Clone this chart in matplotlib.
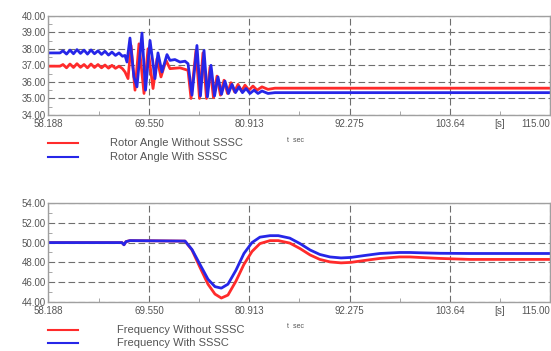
import matplotlib
matplotlib.use('Agg')
import matplotlib.pyplot as plt
from matplotlib.lines import Line2D
from matplotlib.ticker import FixedLocator, MultipleLocator

plt.rcParams['font.family'] = ['Liberation Sans', 'DejaVu Sans']

# x axis (time, s)
x_ticks = [58.188, 69.550, 80.913, 92.275, 103.64, 115.00]
x_tick_labels = ['58.188', '69.550', '80.913', '92.275', '103.64', '115.00']

# rotor angle, with SSSC
t_ang_with = [58.19, 59.49, 59.83, 60.23, 60.62, 61.02, 61.41, 61.81, 62.21, 62.60,
              63.00, 63.39, 63.79, 64.19, 64.58, 64.98, 65.37, 65.77, 66.17, 66.56,
              66.85, 67.07, 67.41, 67.86, 68.20, 68.77, 69.17, 69.68, 70.24, 70.58,
              71.03, 71.60, 71.94, 72.50, 73.07, 73.64, 73.98, 74.43, 74.99, 75.39,
              75.79, 76.18, 76.58, 76.98, 77.37, 77.77, 78.16, 78.56, 78.96, 79.35,
              79.75, 80.14, 80.54, 80.99, 81.45, 81.90, 82.35, 83.03, 83.82, 115.0]
ang_with = [37.75, 37.75, 37.88, 37.68, 37.92, 37.70, 37.95, 37.72, 37.92, 37.68,
            37.93, 37.70, 37.88, 37.66, 37.85, 37.62, 37.80, 37.60, 37.75, 37.55,
            37.60, 37.20, 38.65, 36.30, 35.70, 38.95, 35.50, 38.50, 36.20, 37.75,
            36.60, 37.65, 37.30, 37.35, 37.20, 37.25, 37.10, 35.20, 38.20, 35.15,
            37.90, 35.10, 37.00, 35.15, 36.30, 35.25, 36.05, 35.30, 35.85, 35.35,
            35.70, 35.35, 35.60, 35.30, 35.50, 35.30, 35.45, 35.30, 35.35, 35.35]

# rotor angle, without SSSC
t_ang_without = [58.19, 59.49, 59.83, 60.23, 60.62, 61.02, 61.41, 61.81, 62.21, 62.60,
                 63.00, 63.39, 63.79, 64.19, 64.58, 64.98, 65.37, 65.77, 66.17, 66.56,
                 66.85, 67.19, 67.53, 67.98, 68.43, 69.00, 69.45, 70.02, 70.47, 70.92,
                 71.49, 71.94, 73.07, 73.98, 74.32, 74.88, 75.28, 75.67, 76.07, 76.47,
                 76.86, 77.26, 77.65, 78.05, 78.45, 78.84, 79.24, 79.64, 80.03, 80.43,
                 80.88, 81.33, 81.79, 82.35, 83.03, 83.82, 115.0]
ang_without = [36.95, 36.95, 37.05, 36.85, 37.08, 36.87, 37.10, 36.88, 37.05, 36.85,
               37.08, 36.87, 37.05, 36.85, 37.02, 36.83, 37.00, 36.82, 36.95, 36.80,
               36.60, 36.20, 38.20, 35.50, 38.30, 35.30, 38.00, 35.60, 37.40, 36.30,
               37.30, 36.80, 36.85, 36.70, 35.00, 37.90, 35.00, 37.75, 35.00, 36.90,
               35.05, 36.35, 35.20, 36.10, 35.30, 35.95, 35.40, 35.85, 35.45, 35.80,
               35.50, 35.75, 35.50, 35.70, 35.55, 35.62, 35.62]

# frequency
t_freq = [58.19, 66.50, 66.73, 66.96, 67.41, 73.64, 74.43, 75.33, 76.24, 77.03,
          77.75, 78.50, 79.40, 80.31, 81.22, 82.12, 83.26, 84.20, 85.50, 86.65,
          87.80, 88.90, 90.05, 91.30, 92.40, 94.00, 95.70, 97.90, 99.10, 100.2,
          102.5, 105.9, 115.0]
freq_with = [50.00, 50.00, 49.78, 50.10, 50.20, 50.15, 49.30, 47.80, 46.30, 45.55,
             45.40, 45.80, 47.20, 48.90, 50.00, 50.55, 50.70, 50.70, 50.45, 49.90,
             49.25, 48.80, 48.55, 48.45, 48.50, 48.70, 48.90, 49.00, 49.00, 48.97,
             48.92, 48.90, 48.90]
freq_without = [50.00, 50.00, 49.78, 50.10, 50.20, 50.15, 49.25, 47.50, 45.80, 44.80,
                44.40, 44.70, 46.10, 47.80, 49.10, 49.90, 50.20, 50.20, 49.95, 49.40,
                48.75, 48.30, 48.05, 47.95, 48.00, 48.20, 48.40, 48.55, 48.55, 48.50,
                48.40, 48.30, 48.30]

RED = '#ff2b2b'
BLUE = '#2626e8'
GRID = '#6e6e6e'
TXT = '#555555'

fig = plt.figure(figsize=(5.51, 3.51), dpi=100)
ax1 = fig.add_axes([0.088, 0.6724, 0.911, 0.2829])
ax2 = fig.add_axes([0.088, 0.1396, 0.911, 0.2821])


def style_axes(ax, yticks):
    ax.set_xlim(58.188, 115.0)
    ax.set_ylim(yticks[0], yticks[-1])
    ax.xaxis.set_major_locator(FixedLocator(x_ticks))
    ax.set_xticklabels(x_tick_labels)
    # last label sits on the right edge, keep it inside the picture
    ax.get_xticklabels()[-1].set_horizontalalignment('right')
    ax.xaxis.set_minor_locator(FixedLocator([(a + b) / 2 for a, b in zip(x_ticks[:-1], x_ticks[1:])]))
    ax.set_yticks(yticks)
    ax.set_yticklabels(['%.2f' % v for v in yticks])
    ax.yaxis.set_minor_locator(MultipleLocator((yticks[1] - yticks[0]) / 2))
    ax.grid(True, which='major', color=GRID, linestyle=(0, (6, 3)), linewidth=0.8)
    ax.tick_params(which='major', length=0, labelsize=7, labelcolor=TXT, pad=2)
    ax.tick_params(axis='x', which='major', pad=3)
    ax.tick_params(which='minor', direction='in', length=3, color='#999999')
    for s in ax.spines.values():
        s.set_color('#a0a0a0')
        s.set_linewidth(1.0)


ax1.plot(t_ang_without, ang_without, color=RED, lw=2.0)
ax1.plot(t_ang_with, ang_with, color=BLUE, lw=2.0)
style_axes(ax1, [34.0, 35.0, 36.0, 37.0, 38.0, 39.0, 40.0])

ax2.plot(t_freq, freq_without, color=RED, lw=2.0)
ax2.plot(t_freq, freq_with, color=BLUE, lw=2.0)
style_axes(ax2, [44.0, 46.0, 48.0, 50.0, 52.0, 54.0])

# unit and axis name texts
for y_unit, y_name in [(124, 140), (311, 326)]:
    fig.text(500 / 551, 1 - y_unit / 351, '[s]', fontsize=7, color=TXT, ha='center', va='center')
    fig.text(287 / 551, 1 - y_name / 351, 't  sec', fontsize=5, color=TXT, ha='left', va='center')

# legends
legends = [
    (143, RED, 'Rotor Angle Without SSSC', 110),
    (157, BLUE, 'Rotor Angle With SSSC', 110),
    (330, RED, 'Frequency Without SSSC', 117),
    (343, BLUE, 'Frequency With SSSC', 117),
]
for y, c, label, xt in legends:
    yf = 1 - y / 351
    fig.add_artist(Line2D([48 / 551, 78 / 551], [yf, yf], color=c, lw=1.5))
    fig.text(xt / 551, yf, label, fontsize=8, color=TXT, ha='left', va='center')

fig.savefig('out.png', dpi=100, facecolor='white')
